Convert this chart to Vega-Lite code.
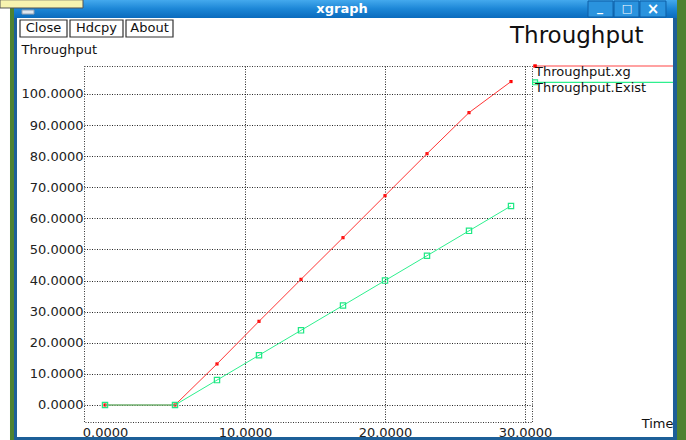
{
  "$schema": "https://vega.github.io/schema/vega-lite/v6.json",
  "width": 448,
  "height": 356,
  "autosize": {"type": "none"},
  "padding": {"left": 84, "top": 66, "right": 154, "bottom": 18},
  "background": "white",
  "config": {
    "view": {"stroke": "#333", "strokeDash": [1, 1.5], "strokeWidth": 1},
    "font": "DejaVu Sans",
    "axis": {
      "labelFont": "DejaVu Sans", "labelFontSize": 13, "labelColor": "#222", "labelOverlap": false,
      "titleFont": "DejaVu Sans", "titleFontSize": 13, "titleFontWeight": "normal", "titleColor": "#111",
      "domain": false, "ticks": false,
      "gridColor": "#000", "gridDash": [1, 1.5], "gridWidth": 1
    },
    "axisX": {"tickCount": 4},
    "axisY": {"tickCount": 11}
  },
  "datasets": {
    "throughput": [
      {"series": "Throughput.xg", "time": 0, "value": 0},
      {"series": "Throughput.xg", "time": 5, "value": 0},
      {"series": "Throughput.xg", "time": 8, "value": 13.2},
      {"series": "Throughput.xg", "time": 11, "value": 26.9},
      {"series": "Throughput.xg", "time": 14, "value": 40.4},
      {"series": "Throughput.xg", "time": 17, "value": 53.8},
      {"series": "Throughput.xg", "time": 20, "value": 67.3},
      {"series": "Throughput.xg", "time": 23, "value": 80.8},
      {"series": "Throughput.xg", "time": 26, "value": 94},
      {"series": "Throughput.xg", "time": 29, "value": 104},
      {"series": "Throughput.Exist", "time": 0, "value": 0},
      {"series": "Throughput.Exist", "time": 5, "value": 0},
      {"series": "Throughput.Exist", "time": 8, "value": 8},
      {"series": "Throughput.Exist", "time": 11, "value": 16},
      {"series": "Throughput.Exist", "time": 14, "value": 24},
      {"series": "Throughput.Exist", "time": 17, "value": 32},
      {"series": "Throughput.Exist", "time": 20, "value": 40},
      {"series": "Throughput.Exist", "time": 23, "value": 48},
      {"series": "Throughput.Exist", "time": 26, "value": 56},
      {"series": "Throughput.Exist", "time": 29, "value": 64}
    ],
    "one": [{}]
  },
  "layer": [
    {
      "data": {"name": "throughput"},
      "transform": [{"filter": "datum.series === 'Throughput.xg'"}],
      "mark": {"type": "point", "shape": "square", "filled": true, "size": 10, "color": "#ff0000", "opacity": 1},
      "encoding": {
        "x": {"field": "time", "type": "quantitative",
          "scale": {"domain": [-1.5, 30.5], "nice": false, "zero": false},
          "axis": {"values": [0, 10, 20, 30], "format": ".4f", "grid": true, "labelPadding": 4,
            "gridOpacity": {"condition": {"test": "datum.value === 0", "value": 0}, "value": 0.85},
            "title": "Time", "titleX": 589, "titleY": 5, "titleAlign": "right", "titleBaseline": "alphabetic", "titleAnchor": "end"}},
        "y": {"field": "value", "type": "quantitative",
          "scale": {"domain": [-5.47, 109], "nice": false, "zero": false},
          "axis": {"values": [0, 10, 20, 30, 40, 50, 60, 70, 80, 90, 100], "format": ".4f", "grid": true, "gridOpacity": 0.85, "labelPadding": 1,
            "title": "Throughput", "titleAngle": 0, "titleX": -63, "titleY": -13, "titleAlign": "left", "titleBaseline": "alphabetic", "titleAnchor": "start"}}
      }
    },
    {
      "data": {"name": "throughput"},
      "transform": [{"filter": "datum.series === 'Throughput.xg'"}],
      "mark": {"type": "line", "stroke": "#ff3535", "strokeWidth": 1},
      "encoding": {
        "x": {"field": "time", "type": "quantitative"},
        "y": {"field": "value", "type": "quantitative"}
      }
    },
    {
      "data": {"name": "throughput"},
      "transform": [{"filter": "datum.series === 'Throughput.Exist'"}],
      "mark": {"type": "line", "stroke": "#2ef08e", "strokeWidth": 1},
      "encoding": {
        "x": {"field": "time", "type": "quantitative"},
        "y": {"field": "value", "type": "quantitative"}
      }
    },
    {
      "data": {"name": "throughput"},
      "transform": [{"filter": "datum.series === 'Throughput.Exist'"}],
      "mark": {"type": "point", "shape": "square", "filled": false, "size": 28, "strokeWidth": 1.2, "color": "#1ee884", "opacity": 1},
      "encoding": {
        "x": {"field": "time", "type": "quantitative"},
        "y": {"field": "value", "type": "quantitative"}
      }
    },
    {
      "data": {"name": "one"},
      "mark": {"type": "rule", "color": "#ff4545", "strokeWidth": 1.2},
      "encoding": {
        "x": {"datum": 30.57, "type": "quantitative"},
        "x2": {"datum": 40.57},
        "y": {"datum": 109, "type": "quantitative"}
      }
    },
    {
      "data": {"name": "one"},
      "mark": {"type": "point", "shape": "square", "filled": true, "size": 12, "color": "#ff0000", "opacity": 1},
      "encoding": {
        "x": {"datum": 30.72, "type": "quantitative"},
        "y": {"datum": 109, "type": "quantitative"}
      }
    },
    {
      "data": {"name": "one"},
      "mark": {"type": "text", "text": "Throughput.xg", "font": "DejaVu Sans", "fontSize": 13, "color": "#111", "align": "left", "baseline": "alphabetic"},
      "encoding": {
        "x": {"datum": 30.72, "type": "quantitative"},
        "y": {"datum": 105.8, "type": "quantitative"}
      }
    },
    {
      "data": {"name": "one"},
      "mark": {"type": "rule", "color": "#2ef08e", "strokeWidth": 1.2},
      "encoding": {
        "x": {"datum": 30.57, "type": "quantitative"},
        "x2": {"datum": 40.57},
        "y": {"datum": 103.76, "type": "quantitative"}
      }
    },
    {
      "data": {"name": "one"},
      "mark": {"type": "point", "shape": "square", "filled": false, "size": 24, "strokeWidth": 1.2, "color": "#1ee884", "opacity": 1},
      "encoding": {
        "x": {"datum": 30.72, "type": "quantitative"},
        "y": {"datum": 103.76, "type": "quantitative"}
      }
    },
    {
      "data": {"name": "one"},
      "mark": {"type": "text", "text": "Throughput.Exist", "font": "DejaVu Sans", "fontSize": 13, "color": "#111", "align": "left", "baseline": "alphabetic"},
      "encoding": {
        "x": {"datum": 30.72, "type": "quantitative"},
        "y": {"datum": 100.6, "type": "quantitative"}
      }
    },
    {
      "data": {"name": "one"},
      "mark": {"type": "text", "text": "Throughput", "font": "DejaVu Sans", "fontSize": 23, "color": "#111", "align": "left", "baseline": "alphabetic"},
      "encoding": {
        "x": {"datum": 28.93, "type": "quantitative"},
        "y": {"datum": 116.4, "type": "quantitative"}
      }
    },
    {
      "data": {"name": "one"},
      "mark": {"type": "rect", "color": {"gradient": "linear", "x1": 0, "y1": 0, "x2": 0, "y2": 1, "stops": [{"offset": 0, "color": "#45aaee"}, {"offset": 0.5, "color": "#1c86d6"}, {"offset": 1, "color": "#0b6bbd"}]}},
      "encoding": {
        "x": {"datum": -6.5, "type": "quantitative"},
        "x2": {"datum": 40.857},
        "y": {"datum": 130.3, "type": "quantitative"},
        "y2": {"datum": 124.44}
      }
    },
    {
      "data": {"name": "one"},
      "mark": {"type": "rect", "color": "#4e8231"},
      "encoding": {
        "x": {"datum": -6.786, "type": "quantitative"},
        "x2": {"datum": -6.5},
        "y": {"datum": 130.3, "type": "quantitative"},
        "y2": {"datum": -11.3}
      }
    },
    {
      "data": {"name": "one"},
      "mark": {"type": "rect", "color": "#1d5f98"},
      "encoding": {
        "x": {"datum": -6.5, "type": "quantitative"},
        "x2": {"datum": -6.286},
        "y": {"datum": 124.44, "type": "quantitative"},
        "y2": {"datum": -11.3}
      }
    },
    {
      "data": {"name": "one"},
      "mark": {"type": "rect", "color": "#1d5f98"},
      "encoding": {
        "x": {"datum": 40.571, "type": "quantitative"},
        "x2": {"datum": 40.857},
        "y": {"datum": 124.44, "type": "quantitative"},
        "y2": {"datum": -11.3}
      }
    },
    {
      "data": {"name": "one"},
      "mark": {"type": "rect", "color": "#4e8231"},
      "encoding": {
        "x": {"datum": 40.857, "type": "quantitative"},
        "x2": {"datum": 41.5},
        "y": {"datum": 130.3, "type": "quantitative"},
        "y2": {"datum": -11.3}
      }
    },
    {
      "data": {"name": "one"},
      "mark": {"type": "rect", "color": "#1d5f98"},
      "encoding": {
        "x": {"datum": -6.5, "type": "quantitative"},
        "x2": {"datum": 40.857},
        "y": {"datum": -10.3, "type": "quantitative"},
        "y2": {"datum": -11.3}
      }
    },
    {
      "data": {"name": "one"},
      "mark": {"type": "rect", "color": "#f7f3b0", "stroke": "#555", "strokeWidth": 1},
      "encoding": {
        "x": {"datum": -7.5, "type": "quantitative"},
        "x2": {"datum": -1.571},
        "y": {"datum": 130.3, "type": "quantitative"},
        "y2": {"datum": 127.65}
      }
    },
    {
      "data": {"name": "one"},
      "mark": {"type": "rect", "color": "#dfe6ee", "stroke": "#8a9bb0", "strokeWidth": 1},
      "encoding": {
        "x": {"datum": -5.93, "type": "quantitative"},
        "x2": {"datum": -5.07},
        "y": {"datum": 127.0, "type": "quantitative"},
        "y2": {"datum": 125.7}
      }
    },
    {
      "data": {"name": "one"},
      "mark": {"type": "text", "text": "xgraph", "font": "DejaVu Sans", "fontSize": 13, "fontWeight": "bold", "color": "white", "align": "center", "baseline": "middle"},
      "encoding": {
        "x": {"datum": 16.93, "type": "quantitative"},
        "y": {"datum": 127.2, "type": "quantitative"}
      }
    },
    {
      "data": {"name": "one"},
      "mark": {"type": "rect", "color": "#2a93de", "stroke": "#0e5fa6", "strokeWidth": 1},
      "encoding": {
        "x": {"datum": 34.5, "type": "quantitative"},
        "x2": {"datum": 36.29},
        "y": {"datum": 129.9, "type": "quantitative"},
        "y2": {"datum": 124.76}
      }
    },
    {
      "data": {"name": "one"},
      "mark": {"type": "rect", "color": "#2a93de", "stroke": "#0e5fa6", "strokeWidth": 1},
      "encoding": {
        "x": {"datum": 36.36, "type": "quantitative"},
        "x2": {"datum": 38.14},
        "y": {"datum": 129.9, "type": "quantitative"},
        "y2": {"datum": 124.76}
      }
    },
    {
      "data": {"name": "one"},
      "mark": {"type": "rect", "color": "#2a93de", "stroke": "#0e5fa6", "strokeWidth": 1},
      "encoding": {
        "x": {"datum": 38.21, "type": "quantitative"},
        "x2": {"datum": 40.07},
        "y": {"datum": 129.9, "type": "quantitative"},
        "y2": {"datum": 124.76}
      }
    },
    {
      "data": {"name": "one"},
      "mark": {"type": "text", "text": "_", "font": "DejaVu Sans", "fontSize": 12, "fontWeight": "bold", "color": "white", "align": "center", "baseline": "middle"},
      "encoding": {
        "x": {"datum": 35.36, "type": "quantitative"},
        "y": {"datum": 128.0, "type": "quantitative"}
      }
    },
    {
      "data": {"name": "one"},
      "mark": {"type": "text", "text": "□", "font": "DejaVu Sans", "fontSize": 11, "fontWeight": "bold", "color": "white", "align": "center", "baseline": "middle"},
      "encoding": {
        "x": {"datum": 37.29, "type": "quantitative"},
        "y": {"datum": 127.2, "type": "quantitative"}
      }
    },
    {
      "data": {"name": "one"},
      "mark": {"type": "text", "text": "×", "font": "DejaVu Sans", "fontSize": 15, "fontWeight": "bold", "color": "white", "align": "center", "baseline": "middle"},
      "encoding": {
        "x": {"datum": 39.14, "type": "quantitative"},
        "y": {"datum": 127.2, "type": "quantitative"}
      }
    },
    {
      "data": {"name": "one"},
      "mark": {"type": "rect", "fill": "white", "stroke": "#333", "strokeWidth": 1.2},
      "encoding": {
        "x": {"datum": -6.071, "type": "quantitative"},
        "x2": {"datum": -2.714},
        "y": {"datum": 123.79, "type": "quantitative"},
        "y2": {"datum": 118.33}
      }
    },
    {
      "data": {"name": "one"},
      "mark": {"type": "rect", "fill": "white", "stroke": "#333", "strokeWidth": 1.2},
      "encoding": {
        "x": {"datum": -2.5, "type": "quantitative"},
        "x2": {"datum": 1.286},
        "y": {"datum": 123.79, "type": "quantitative"},
        "y2": {"datum": 118.33}
      }
    },
    {
      "data": {"name": "one"},
      "mark": {"type": "rect", "fill": "white", "stroke": "#333", "strokeWidth": 1.2},
      "encoding": {
        "x": {"datum": 1.5, "type": "quantitative"},
        "x2": {"datum": 4.857},
        "y": {"datum": 123.79, "type": "quantitative"},
        "y2": {"datum": 118.33}
      }
    },
    {
      "data": {"name": "one"},
      "mark": {"type": "text", "text": "Close", "font": "DejaVu Sans", "fontSize": 13, "color": "#111", "align": "center", "baseline": "middle"},
      "encoding": {
        "x": {"datum": -4.393, "type": "quantitative"},
        "y": {"datum": 121.06, "type": "quantitative"}
      }
    },
    {
      "data": {"name": "one"},
      "mark": {"type": "text", "text": "Hdcpy", "font": "DejaVu Sans", "fontSize": 13, "color": "#111", "align": "center", "baseline": "middle"},
      "encoding": {
        "x": {"datum": -0.607, "type": "quantitative"},
        "y": {"datum": 121.06, "type": "quantitative"}
      }
    },
    {
      "data": {"name": "one"},
      "mark": {"type": "text", "text": "About", "font": "DejaVu Sans", "fontSize": 13, "color": "#111", "align": "center", "baseline": "middle"},
      "encoding": {
        "x": {"datum": 3.179, "type": "quantitative"},
        "y": {"datum": 121.06, "type": "quantitative"}
      }
    }
  ]
}
